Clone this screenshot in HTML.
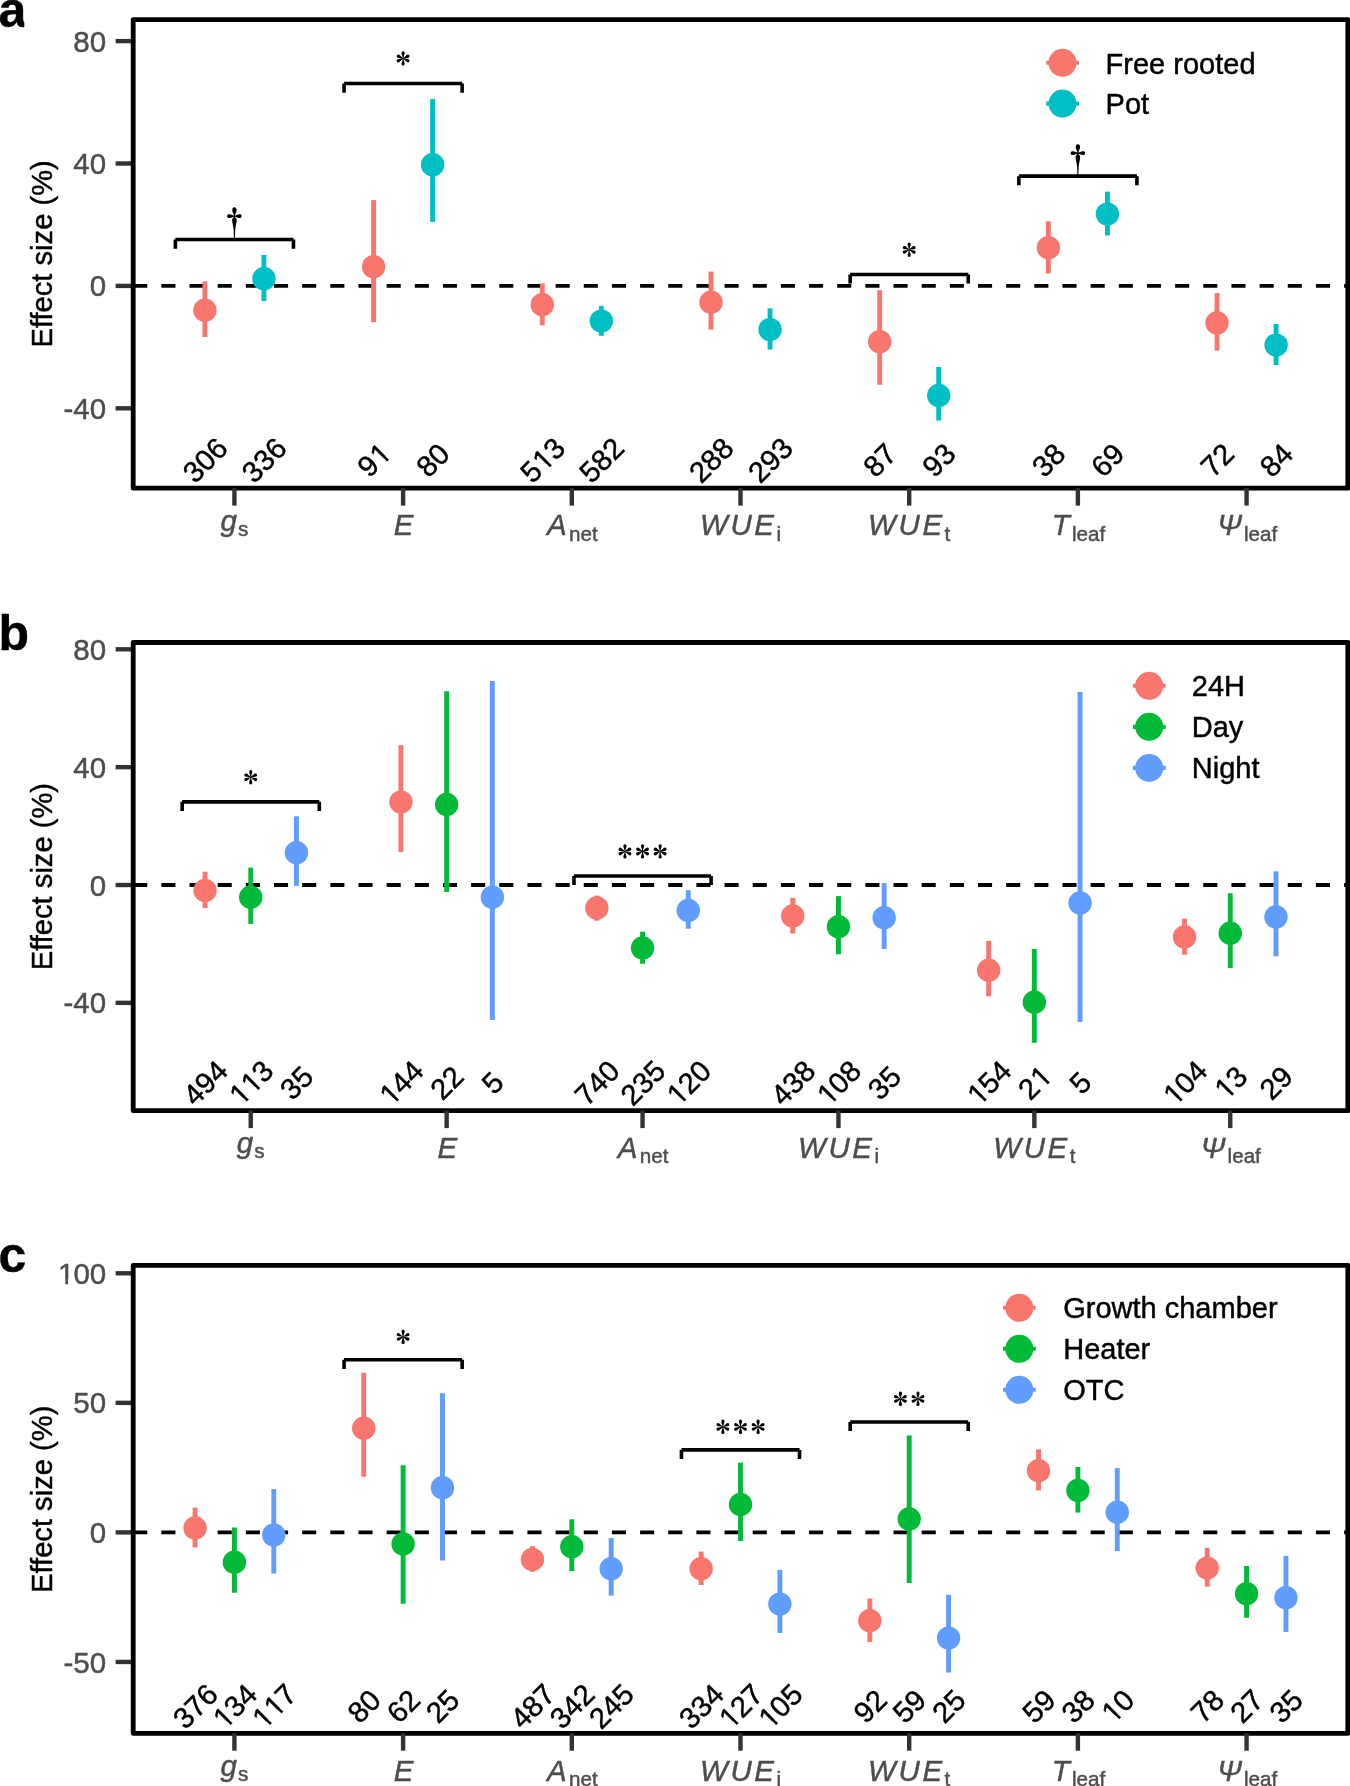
<!DOCTYPE html>
<html><head><meta charset="utf-8"><title>Effect size figure</title>
<style>
html,body{margin:0;padding:0;background:#fff;width:1350px;height:1786px;overflow:hidden;}
svg{display:block;will-change:transform;}
text{font-family:"Liberation Sans", sans-serif;stroke-width:0.45px;stroke-linejoin:round;}
</style></head>
<body>
<svg width="1350" height="1786" viewBox="0 0 1350 1786">
<defs><clipPath id="tagA"><rect x="-5" y="-5" width="29.3" height="40"/></clipPath><clipPath id="one" clipPathUnits="objectBoundingBox"><rect x="0" y="0" width="1" height="0.66"/><rect x="0.45" y="0" width="0.165" height="1"/></clipPath></defs>
<rect width="1350" height="1786" fill="#fff"/>
<text x="-1.5" y="26.70" font-size="50" font-weight="bold" fill="#000" stroke="#000" clip-path="url(#tagA)">a</text>
<line x1="115.6" y1="41.099999999999966" x2="133.2" y2="41.099999999999966" stroke="#333333" stroke-width="4.4"/>
<text x="106.2" y="51.66" text-anchor="end" font-size="29.5" fill="#4D4D4D" stroke="#4D4D4D">80</text>
<line x1="115.6" y1="163.49999999999997" x2="133.2" y2="163.49999999999997" stroke="#333333" stroke-width="4.4"/>
<text x="106.2" y="174.06" text-anchor="end" font-size="29.5" fill="#4D4D4D" stroke="#4D4D4D">40</text>
<line x1="115.6" y1="285.9" x2="133.2" y2="285.9" stroke="#333333" stroke-width="4.4"/>
<text x="106.2" y="296.46" text-anchor="end" font-size="29.5" fill="#4D4D4D" stroke="#4D4D4D">0</text>
<line x1="115.6" y1="408.29999999999995" x2="133.2" y2="408.29999999999995" stroke="#333333" stroke-width="4.4"/>
<text x="106.2" y="418.86" text-anchor="end" font-size="29.5" fill="#4D4D4D" stroke="#4D4D4D">-40</text>
<text x="52" y="253.90" text-anchor="middle" font-size="29.15" fill="#000" stroke="#000" transform="rotate(-90 52 253.90)">Effect size (%)</text>
<line x1="133.2" y1="285.9" x2="1347.8" y2="285.9" stroke="#000" stroke-width="3.8" stroke-dasharray="14.08 14.08"/>
<line x1="204.90" y1="281.30" x2="204.90" y2="337.00" stroke="#F8766D" stroke-width="4.9"/>
<circle cx="204.90" cy="310.30" r="11.7" fill="#F8766D"/>
<g transform="rotate(-45 204.90 459.90)"><text x="180.54" y="470.35" font-size="29.2" fill="#000" stroke="#000">3</text><text x="196.78" y="470.35" font-size="29.2" fill="#000" stroke="#000">0</text><text x="213.01" y="470.35" font-size="29.2" fill="#000" stroke="#000">6</text></g>
<line x1="263.94" y1="254.90" x2="263.94" y2="301.10" stroke="#00BFC4" stroke-width="4.9"/>
<circle cx="263.94" cy="278.70" r="11.7" fill="#00BFC4"/>
<g transform="rotate(-45 263.94 459.90)"><text x="239.58" y="470.35" font-size="29.2" fill="#000" stroke="#000">3</text><text x="255.82" y="470.35" font-size="29.2" fill="#000" stroke="#000">3</text><text x="272.06" y="470.35" font-size="29.2" fill="#000" stroke="#000">6</text></g>
<line x1="373.59" y1="200.10" x2="373.59" y2="322.20" stroke="#F8766D" stroke-width="4.9"/>
<circle cx="373.59" cy="266.70" r="11.7" fill="#F8766D"/>
<g transform="rotate(-45 373.59 459.90)"><text x="357.35" y="470.35" font-size="29.2" fill="#000" stroke="#000">9</text><text x="374.55" y="470.35" font-size="29.2" fill="#000" stroke="#000" clip-path="url(#one)">1</text></g>
<line x1="432.63" y1="98.90" x2="432.63" y2="221.90" stroke="#00BFC4" stroke-width="4.9"/>
<circle cx="432.63" cy="164.70" r="11.7" fill="#00BFC4"/>
<g transform="rotate(-45 432.63 459.90)"><text x="416.39" y="470.35" font-size="29.2" fill="#000" stroke="#000">8</text><text x="432.63" y="470.35" font-size="29.2" fill="#000" stroke="#000">0</text></g>
<line x1="542.28" y1="283.40" x2="542.28" y2="325.30" stroke="#F8766D" stroke-width="4.9"/>
<circle cx="542.28" cy="304.70" r="11.7" fill="#F8766D"/>
<g transform="rotate(-45 542.28 459.90)"><text x="517.92" y="470.35" font-size="29.2" fill="#000" stroke="#000">5</text><text x="535.13" y="470.35" font-size="29.2" fill="#000" stroke="#000" clip-path="url(#one)">1</text><text x="550.40" y="470.35" font-size="29.2" fill="#000" stroke="#000">3</text></g>
<line x1="601.33" y1="305.90" x2="601.33" y2="335.80" stroke="#00BFC4" stroke-width="4.9"/>
<circle cx="601.33" cy="321.10" r="11.7" fill="#00BFC4"/>
<g transform="rotate(-45 601.33 459.90)"><text x="576.97" y="470.35" font-size="29.2" fill="#000" stroke="#000">5</text><text x="593.21" y="470.35" font-size="29.2" fill="#000" stroke="#000">8</text><text x="609.45" y="470.35" font-size="29.2" fill="#000" stroke="#000">2</text></g>
<line x1="710.98" y1="271.50" x2="710.98" y2="329.60" stroke="#F8766D" stroke-width="4.9"/>
<circle cx="710.98" cy="302.30" r="11.7" fill="#F8766D"/>
<g transform="rotate(-45 710.98 459.90)"><text x="686.62" y="470.35" font-size="29.2" fill="#000" stroke="#000">2</text><text x="702.86" y="470.35" font-size="29.2" fill="#000" stroke="#000">8</text><text x="719.10" y="470.35" font-size="29.2" fill="#000" stroke="#000">8</text></g>
<line x1="770.02" y1="308.30" x2="770.02" y2="349.50" stroke="#00BFC4" stroke-width="4.9"/>
<circle cx="770.02" cy="329.60" r="11.7" fill="#00BFC4"/>
<g transform="rotate(-45 770.02 459.90)"><text x="745.66" y="470.35" font-size="29.2" fill="#000" stroke="#000">2</text><text x="761.90" y="470.35" font-size="29.2" fill="#000" stroke="#000">9</text><text x="778.14" y="470.35" font-size="29.2" fill="#000" stroke="#000">3</text></g>
<line x1="879.67" y1="290.20" x2="879.67" y2="384.80" stroke="#F8766D" stroke-width="4.9"/>
<circle cx="879.67" cy="341.70" r="11.7" fill="#F8766D"/>
<g transform="rotate(-45 879.67 459.90)"><text x="863.43" y="470.35" font-size="29.2" fill="#000" stroke="#000">8</text><text x="879.67" y="470.35" font-size="29.2" fill="#000" stroke="#000">7</text></g>
<line x1="938.72" y1="367.00" x2="938.72" y2="420.60" stroke="#00BFC4" stroke-width="4.9"/>
<circle cx="938.72" cy="395.50" r="11.7" fill="#00BFC4"/>
<g transform="rotate(-45 938.72 459.90)"><text x="922.48" y="470.35" font-size="29.2" fill="#000" stroke="#000">9</text><text x="938.72" y="470.35" font-size="29.2" fill="#000" stroke="#000">3</text></g>
<line x1="1048.37" y1="221.30" x2="1048.37" y2="273.40" stroke="#F8766D" stroke-width="4.9"/>
<circle cx="1048.37" cy="247.80" r="11.7" fill="#F8766D"/>
<g transform="rotate(-45 1048.37 459.90)"><text x="1032.13" y="470.35" font-size="29.2" fill="#000" stroke="#000">3</text><text x="1048.37" y="470.35" font-size="29.2" fill="#000" stroke="#000">8</text></g>
<line x1="1107.41" y1="191.60" x2="1107.41" y2="235.50" stroke="#00BFC4" stroke-width="4.9"/>
<circle cx="1107.41" cy="214.10" r="11.7" fill="#00BFC4"/>
<g transform="rotate(-45 1107.41 459.90)"><text x="1091.17" y="470.35" font-size="29.2" fill="#000" stroke="#000">6</text><text x="1107.41" y="470.35" font-size="29.2" fill="#000" stroke="#000">9</text></g>
<line x1="1217.06" y1="293.10" x2="1217.06" y2="350.60" stroke="#F8766D" stroke-width="4.9"/>
<circle cx="1217.06" cy="323.00" r="11.7" fill="#F8766D"/>
<g transform="rotate(-45 1217.06 459.90)"><text x="1200.82" y="470.35" font-size="29.2" fill="#000" stroke="#000">7</text><text x="1217.06" y="470.35" font-size="29.2" fill="#000" stroke="#000">2</text></g>
<line x1="1276.10" y1="324.00" x2="1276.10" y2="365.10" stroke="#00BFC4" stroke-width="4.9"/>
<circle cx="1276.10" cy="345.10" r="11.7" fill="#00BFC4"/>
<g transform="rotate(-45 1276.10 459.90)"><text x="1259.87" y="470.35" font-size="29.2" fill="#000" stroke="#000">8</text><text x="1276.10" y="470.35" font-size="29.2" fill="#000" stroke="#000">4</text></g>
<path d="M175.37 239.55 H293.46 M175.37 239.55 V248.65 M293.46 239.55 V248.65" fill="none" stroke="#000" stroke-width="3.6"/>
<path d="M234.42 207.30 C236.12 207.30 236.67 208.90 236.57 210.40 C236.47 211.90 235.32 213.40 234.97 215.30 L235.32 215.55 C237.22 214.60 239.42 214.10 240.32 214.20 C242.02 214.40 242.02 217.80 240.32 218.00 C239.42 218.10 237.22 217.60 235.32 216.65 L235.12 217.00 C235.82 217.90 236.82 218.70 236.72 220.30 C236.62 222.60 235.52 226.10 235.17 230.10 L234.92 238.35 L233.92 238.35 L233.67 230.10 C233.32 226.10 232.22 222.60 232.12 220.30 C232.02 218.70 233.02 217.90 233.72 217.00 L233.52 216.65 C231.62 217.60 229.42 218.10 228.52 218.00 C226.82 217.80 226.82 214.40 228.52 214.20 C229.42 214.10 231.62 214.60 233.52 215.55 L233.87 215.30 C233.52 213.40 232.37 211.90 232.27 210.40 C232.17 208.90 232.72 207.30 234.42 207.30 Z" fill="#000"/>
<path d="M344.07 83.55 H462.15 M344.07 83.55 V92.65 M462.15 83.55 V92.65" fill="none" stroke="#000" stroke-width="3.6"/>
<g transform="translate(403.11 58.50) scale(1.0)"><path transform="rotate(0)" d="M-0.36 -0.4 C-0.55 -2.56 -1.6 -4.10 -1.6 -5.70 A1.6 1.6 0 0 1 1.6 -5.70 C1.6 -4.10 0.55 -2.56 0.36 -0.4 Z" fill="#000"/><path transform="rotate(65)" d="M-0.36 -0.4 C-0.55 -2.39 -1.6 -3.82 -1.6 -5.30 A1.6 1.6 0 0 1 1.6 -5.30 C1.6 -3.82 0.55 -2.39 0.36 -0.4 Z" fill="#000"/><path transform="rotate(115)" d="M-0.36 -0.4 C-0.55 -2.39 -1.6 -3.82 -1.6 -5.30 A1.6 1.6 0 0 1 1.6 -5.30 C1.6 -3.82 0.55 -2.39 0.36 -0.4 Z" fill="#000"/><path transform="rotate(180)" d="M-0.36 -0.4 C-0.55 -2.48 -1.6 -3.96 -1.6 -5.50 A1.6 1.6 0 0 1 1.6 -5.50 C1.6 -3.96 0.55 -2.48 0.36 -0.4 Z" fill="#000"/><path transform="rotate(245)" d="M-0.36 -0.4 C-0.55 -2.39 -1.6 -3.82 -1.6 -5.30 A1.6 1.6 0 0 1 1.6 -5.30 C1.6 -3.82 0.55 -2.39 0.36 -0.4 Z" fill="#000"/><path transform="rotate(295)" d="M-0.36 -0.4 C-0.55 -2.39 -1.6 -3.82 -1.6 -5.30 A1.6 1.6 0 0 1 1.6 -5.30 C1.6 -3.82 0.55 -2.39 0.36 -0.4 Z" fill="#000"/><circle r="0.75" fill="#000"/></g>
<path d="M850.15 274.50 H968.24 M850.15 274.50 V283.60 M968.24 274.50 V283.60" fill="none" stroke="#000" stroke-width="3.6"/>
<g transform="translate(909.19 249.80) scale(1.0)"><path transform="rotate(0)" d="M-0.36 -0.4 C-0.55 -2.56 -1.6 -4.10 -1.6 -5.70 A1.6 1.6 0 0 1 1.6 -5.70 C1.6 -4.10 0.55 -2.56 0.36 -0.4 Z" fill="#000"/><path transform="rotate(65)" d="M-0.36 -0.4 C-0.55 -2.39 -1.6 -3.82 -1.6 -5.30 A1.6 1.6 0 0 1 1.6 -5.30 C1.6 -3.82 0.55 -2.39 0.36 -0.4 Z" fill="#000"/><path transform="rotate(115)" d="M-0.36 -0.4 C-0.55 -2.39 -1.6 -3.82 -1.6 -5.30 A1.6 1.6 0 0 1 1.6 -5.30 C1.6 -3.82 0.55 -2.39 0.36 -0.4 Z" fill="#000"/><path transform="rotate(180)" d="M-0.36 -0.4 C-0.55 -2.48 -1.6 -3.96 -1.6 -5.50 A1.6 1.6 0 0 1 1.6 -5.50 C1.6 -3.96 0.55 -2.48 0.36 -0.4 Z" fill="#000"/><path transform="rotate(245)" d="M-0.36 -0.4 C-0.55 -2.39 -1.6 -3.82 -1.6 -5.30 A1.6 1.6 0 0 1 1.6 -5.30 C1.6 -3.82 0.55 -2.39 0.36 -0.4 Z" fill="#000"/><path transform="rotate(295)" d="M-0.36 -0.4 C-0.55 -2.39 -1.6 -3.82 -1.6 -5.30 A1.6 1.6 0 0 1 1.6 -5.30 C1.6 -3.82 0.55 -2.39 0.36 -0.4 Z" fill="#000"/><circle r="0.75" fill="#000"/></g>
<path d="M1018.85 176.15 H1136.93 M1018.85 176.15 V185.25 M1136.93 176.15 V185.25" fill="none" stroke="#000" stroke-width="3.6"/>
<path d="M1077.89 144.30 C1079.59 144.30 1080.14 145.90 1080.04 147.40 C1079.94 148.90 1078.79 150.40 1078.44 152.30 L1078.79 152.55 C1080.69 151.60 1082.89 151.10 1083.79 151.20 C1085.49 151.40 1085.49 154.80 1083.79 155.00 C1082.89 155.10 1080.69 154.60 1078.79 153.65 L1078.59 154.00 C1079.29 154.90 1080.29 155.70 1080.19 157.30 C1080.09 159.60 1078.99 163.10 1078.64 167.10 L1078.39 174.95 L1077.39 174.95 L1077.14 167.10 C1076.79 163.10 1075.69 159.60 1075.59 157.30 C1075.49 155.70 1076.49 154.90 1077.19 154.00 L1076.99 153.65 C1075.09 154.60 1072.89 155.10 1071.99 155.00 C1070.29 154.80 1070.29 151.40 1071.99 151.20 C1072.89 151.10 1075.09 151.60 1076.99 152.55 L1077.34 152.30 C1076.99 150.40 1075.84 148.90 1075.74 147.40 C1075.64 145.90 1076.19 144.30 1077.89 144.30 Z" fill="#000"/>
<rect x="133.2" y="19.6" width="1214.60" height="468.60" fill="none" stroke="#000" stroke-width="4.8" stroke-linejoin="round"/>
<line x1="234.42" y1="488.2" x2="234.42" y2="505.60" stroke="#333333" stroke-width="4.4"/>
<text x="234.42" y="530.50" text-anchor="middle" font-size="29.5" fill="#4D4D4D" stroke="#4D4D4D"><tspan font-style="italic">g</tspan><tspan font-size="20.65" dy="5.4" dx="1.0">s</tspan></text>
<line x1="403.11" y1="488.2" x2="403.11" y2="505.60" stroke="#333333" stroke-width="4.4"/>
<text x="403.71" y="535.40" text-anchor="middle" font-size="29.5" fill="#4D4D4D" stroke="#4D4D4D"><tspan font-style="italic">E</tspan></text>
<line x1="571.81" y1="488.2" x2="571.81" y2="505.60" stroke="#333333" stroke-width="4.4"/>
<text x="572.41" y="535.40" text-anchor="middle" font-size="29.5" fill="#4D4D4D" stroke="#4D4D4D"><tspan font-style="italic">A</tspan><tspan font-size="20.65" dy="5.4" dx="2.2">net</tspan></text>
<line x1="740.50" y1="488.2" x2="740.50" y2="505.60" stroke="#333333" stroke-width="4.4"/>
<text x="740.50" y="535.40" text-anchor="middle" font-size="29.5" fill="#4D4D4D" stroke="#4D4D4D"><tspan font-style="italic">W</tspan><tspan font-style="italic" dx="2.6">U</tspan><tspan font-style="italic" dx="2.6">E</tspan><tspan font-size="20.65" dy="5.4" dx="2.4">i</tspan></text>
<line x1="909.19" y1="488.2" x2="909.19" y2="505.60" stroke="#333333" stroke-width="4.4"/>
<text x="909.19" y="535.40" text-anchor="middle" font-size="29.5" fill="#4D4D4D" stroke="#4D4D4D"><tspan font-style="italic">W</tspan><tspan font-style="italic" dx="2.6">U</tspan><tspan font-style="italic" dx="2.6">E</tspan><tspan font-size="20.65" dy="5.4" dx="2.4">t</tspan></text>
<line x1="1077.89" y1="488.2" x2="1077.89" y2="505.60" stroke="#333333" stroke-width="4.4"/>
<text x="1078.49" y="535.40" text-anchor="middle" font-size="29.5" fill="#4D4D4D" stroke="#4D4D4D"><tspan font-style="italic">T</tspan><tspan font-size="20.65" dy="5.4" dx="2.2">leaf</tspan></text>
<line x1="1246.58" y1="488.2" x2="1246.58" y2="505.60" stroke="#333333" stroke-width="4.4"/>
<text x="1247.18" y="535.40" text-anchor="middle" font-size="29.5" fill="#4D4D4D" stroke="#4D4D4D"><tspan font-style="italic">&#936;</tspan><tspan font-size="20.65" dy="5.4" dx="2.2">leaf</tspan></text>
<line x1="1046.20" y1="62.80" x2="1079.00" y2="62.80" stroke="#F8766D" stroke-width="4.1"/>
<circle cx="1062.50" cy="62.80" r="14" fill="#F8766D"/>
<line x1="1046.20" y1="103.60" x2="1079.00" y2="103.60" stroke="#00BFC4" stroke-width="4.1"/>
<circle cx="1062.50" cy="103.60" r="14" fill="#00BFC4"/>
<text x="1105.60" y="73.60" font-size="29.0" fill="#000" stroke="#000">Free rooted</text>
<text x="1105.60" y="114.00" font-size="29.0" fill="#000" stroke="#000">Pot</text>
<text x="-1.5" y="649.60" font-size="50" font-weight="bold" fill="#000" stroke="#000">b</text>
<line x1="115.6" y1="649.3199999999999" x2="133.2" y2="649.3199999999999" stroke="#333333" stroke-width="4.4"/>
<text x="106.2" y="659.88" text-anchor="end" font-size="29.5" fill="#4D4D4D" stroke="#4D4D4D">80</text>
<line x1="115.6" y1="767.16" x2="133.2" y2="767.16" stroke="#333333" stroke-width="4.4"/>
<text x="106.2" y="777.72" text-anchor="end" font-size="29.5" fill="#4D4D4D" stroke="#4D4D4D">40</text>
<line x1="115.6" y1="885.0" x2="133.2" y2="885.0" stroke="#333333" stroke-width="4.4"/>
<text x="106.2" y="895.56" text-anchor="end" font-size="29.5" fill="#4D4D4D" stroke="#4D4D4D">0</text>
<line x1="115.6" y1="1002.84" x2="133.2" y2="1002.84" stroke="#333333" stroke-width="4.4"/>
<text x="106.2" y="1013.40" text-anchor="end" font-size="29.5" fill="#4D4D4D" stroke="#4D4D4D">-40</text>
<text x="52" y="876.60" text-anchor="middle" font-size="29.15" fill="#000" stroke="#000" transform="rotate(-90 52 876.60)">Effect size (%)</text>
<line x1="133.2" y1="885.0" x2="1347.8" y2="885.0" stroke="#000" stroke-width="3.8" stroke-dasharray="14.08 14.08"/>
<line x1="205.03" y1="871.70" x2="205.03" y2="908.10" stroke="#F8766D" stroke-width="4.9"/>
<circle cx="205.03" cy="890.40" r="11.7" fill="#F8766D"/>
<g transform="rotate(-45 205.03 1082.60)"><text x="180.67" y="1093.05" font-size="29.2" fill="#000" stroke="#000">4</text><text x="196.91" y="1093.05" font-size="29.2" fill="#000" stroke="#000">9</text><text x="213.15" y="1093.05" font-size="29.2" fill="#000" stroke="#000">4</text></g>
<line x1="250.74" y1="867.60" x2="250.74" y2="923.90" stroke="#00BA38" stroke-width="4.9"/>
<circle cx="250.74" cy="897.20" r="11.7" fill="#00BA38"/>
<g transform="rotate(-45 250.74 1082.60)"><text x="227.35" y="1093.05" font-size="29.2" fill="#000" stroke="#000" clip-path="url(#one)">1</text><text x="243.59" y="1093.05" font-size="29.2" fill="#000" stroke="#000" clip-path="url(#one)">1</text><text x="258.86" y="1093.05" font-size="29.2" fill="#000" stroke="#000">3</text></g>
<line x1="296.45" y1="816.30" x2="296.45" y2="885.90" stroke="#619CFF" stroke-width="4.9"/>
<circle cx="296.45" cy="852.70" r="11.7" fill="#619CFF"/>
<g transform="rotate(-45 296.45 1082.60)"><text x="280.21" y="1093.05" font-size="29.2" fill="#000" stroke="#000">3</text><text x="296.45" y="1093.05" font-size="29.2" fill="#000" stroke="#000">5</text></g>
<line x1="400.93" y1="745.20" x2="400.93" y2="851.90" stroke="#F8766D" stroke-width="4.9"/>
<circle cx="400.93" cy="802.10" r="11.7" fill="#F8766D"/>
<g transform="rotate(-45 400.93 1082.60)"><text x="377.54" y="1093.05" font-size="29.2" fill="#000" stroke="#000" clip-path="url(#one)">1</text><text x="392.81" y="1093.05" font-size="29.2" fill="#000" stroke="#000">4</text><text x="409.05" y="1093.05" font-size="29.2" fill="#000" stroke="#000">4</text></g>
<line x1="446.65" y1="691.30" x2="446.65" y2="891.90" stroke="#00BA38" stroke-width="4.9"/>
<circle cx="446.65" cy="804.40" r="11.7" fill="#00BA38"/>
<g transform="rotate(-45 446.65 1082.60)"><text x="430.41" y="1093.05" font-size="29.2" fill="#000" stroke="#000">2</text><text x="446.65" y="1093.05" font-size="29.2" fill="#000" stroke="#000">2</text></g>
<line x1="492.36" y1="680.90" x2="492.36" y2="1019.90" stroke="#619CFF" stroke-width="4.9"/>
<circle cx="492.36" cy="897.20" r="11.7" fill="#619CFF"/>
<g transform="rotate(-45 492.36 1082.60)"><text x="484.24" y="1093.05" font-size="29.2" fill="#000" stroke="#000">5</text></g>
<line x1="596.84" y1="895.60" x2="596.84" y2="920.70" stroke="#F8766D" stroke-width="4.9"/>
<circle cx="596.84" cy="908.00" r="11.7" fill="#F8766D"/>
<g transform="rotate(-45 596.84 1082.60)"><text x="572.48" y="1093.05" font-size="29.2" fill="#000" stroke="#000">7</text><text x="588.72" y="1093.05" font-size="29.2" fill="#000" stroke="#000">4</text><text x="604.96" y="1093.05" font-size="29.2" fill="#000" stroke="#000">0</text></g>
<line x1="642.55" y1="931.70" x2="642.55" y2="963.70" stroke="#00BA38" stroke-width="4.9"/>
<circle cx="642.55" cy="948.00" r="11.7" fill="#00BA38"/>
<g transform="rotate(-45 642.55 1082.60)"><text x="618.19" y="1093.05" font-size="29.2" fill="#000" stroke="#000">2</text><text x="634.43" y="1093.05" font-size="29.2" fill="#000" stroke="#000">3</text><text x="650.67" y="1093.05" font-size="29.2" fill="#000" stroke="#000">5</text></g>
<line x1="688.26" y1="890.20" x2="688.26" y2="928.70" stroke="#619CFF" stroke-width="4.9"/>
<circle cx="688.26" cy="910.40" r="11.7" fill="#619CFF"/>
<g transform="rotate(-45 688.26 1082.60)"><text x="664.86" y="1093.05" font-size="29.2" fill="#000" stroke="#000" clip-path="url(#one)">1</text><text x="680.14" y="1093.05" font-size="29.2" fill="#000" stroke="#000">2</text><text x="696.38" y="1093.05" font-size="29.2" fill="#000" stroke="#000">0</text></g>
<line x1="792.74" y1="897.90" x2="792.74" y2="933.50" stroke="#F8766D" stroke-width="4.9"/>
<circle cx="792.74" cy="916.00" r="11.7" fill="#F8766D"/>
<g transform="rotate(-45 792.74 1082.60)"><text x="768.38" y="1093.05" font-size="29.2" fill="#000" stroke="#000">4</text><text x="784.62" y="1093.05" font-size="29.2" fill="#000" stroke="#000">3</text><text x="800.86" y="1093.05" font-size="29.2" fill="#000" stroke="#000">8</text></g>
<line x1="838.45" y1="896.10" x2="838.45" y2="954.20" stroke="#00BA38" stroke-width="4.9"/>
<circle cx="838.45" cy="926.70" r="11.7" fill="#00BA38"/>
<g transform="rotate(-45 838.45 1082.60)"><text x="815.06" y="1093.05" font-size="29.2" fill="#000" stroke="#000" clip-path="url(#one)">1</text><text x="830.33" y="1093.05" font-size="29.2" fill="#000" stroke="#000">0</text><text x="846.57" y="1093.05" font-size="29.2" fill="#000" stroke="#000">8</text></g>
<line x1="884.16" y1="883.10" x2="884.16" y2="948.90" stroke="#619CFF" stroke-width="4.9"/>
<circle cx="884.16" cy="917.80" r="11.7" fill="#619CFF"/>
<g transform="rotate(-45 884.16 1082.60)"><text x="867.92" y="1093.05" font-size="29.2" fill="#000" stroke="#000">3</text><text x="884.16" y="1093.05" font-size="29.2" fill="#000" stroke="#000">5</text></g>
<line x1="988.64" y1="940.90" x2="988.64" y2="996.30" stroke="#F8766D" stroke-width="4.9"/>
<circle cx="988.64" cy="970.20" r="11.7" fill="#F8766D"/>
<g transform="rotate(-45 988.64 1082.60)"><text x="965.25" y="1093.05" font-size="29.2" fill="#000" stroke="#000" clip-path="url(#one)">1</text><text x="980.52" y="1093.05" font-size="29.2" fill="#000" stroke="#000">5</text><text x="996.76" y="1093.05" font-size="29.2" fill="#000" stroke="#000">4</text></g>
<line x1="1034.35" y1="948.90" x2="1034.35" y2="1042.80" stroke="#00BA38" stroke-width="4.9"/>
<circle cx="1034.35" cy="1002.20" r="11.7" fill="#00BA38"/>
<g transform="rotate(-45 1034.35 1082.60)"><text x="1018.12" y="1093.05" font-size="29.2" fill="#000" stroke="#000">2</text><text x="1035.32" y="1093.05" font-size="29.2" fill="#000" stroke="#000" clip-path="url(#one)">1</text></g>
<line x1="1080.07" y1="692.00" x2="1080.07" y2="1022.10" stroke="#619CFF" stroke-width="4.9"/>
<circle cx="1080.07" cy="903.00" r="11.7" fill="#619CFF"/>
<g transform="rotate(-45 1080.07 1082.60)"><text x="1071.95" y="1093.05" font-size="29.2" fill="#000" stroke="#000">5</text></g>
<line x1="1184.55" y1="918.70" x2="1184.55" y2="954.80" stroke="#F8766D" stroke-width="4.9"/>
<circle cx="1184.55" cy="937.00" r="11.7" fill="#F8766D"/>
<g transform="rotate(-45 1184.55 1082.60)"><text x="1161.15" y="1093.05" font-size="29.2" fill="#000" stroke="#000" clip-path="url(#one)">1</text><text x="1176.43" y="1093.05" font-size="29.2" fill="#000" stroke="#000">0</text><text x="1192.67" y="1093.05" font-size="29.2" fill="#000" stroke="#000">4</text></g>
<line x1="1230.26" y1="893.20" x2="1230.26" y2="968.10" stroke="#00BA38" stroke-width="4.9"/>
<circle cx="1230.26" cy="933.20" r="11.7" fill="#00BA38"/>
<g transform="rotate(-45 1230.26 1082.60)"><text x="1214.98" y="1093.05" font-size="29.2" fill="#000" stroke="#000" clip-path="url(#one)">1</text><text x="1230.26" y="1093.05" font-size="29.2" fill="#000" stroke="#000">3</text></g>
<line x1="1275.97" y1="871.30" x2="1275.97" y2="956.30" stroke="#619CFF" stroke-width="4.9"/>
<circle cx="1275.97" cy="916.90" r="11.7" fill="#619CFF"/>
<g transform="rotate(-45 1275.97 1082.60)"><text x="1259.73" y="1093.05" font-size="29.2" fill="#000" stroke="#000">2</text><text x="1275.97" y="1093.05" font-size="29.2" fill="#000" stroke="#000">9</text></g>
<path d="M182.18 801.85 H319.31 M182.18 801.85 V810.95 M319.31 801.85 V810.95" fill="none" stroke="#000" stroke-width="3.6"/>
<g transform="translate(250.74 777.30) scale(1.0)"><path transform="rotate(0)" d="M-0.36 -0.4 C-0.55 -2.56 -1.6 -4.10 -1.6 -5.70 A1.6 1.6 0 0 1 1.6 -5.70 C1.6 -4.10 0.55 -2.56 0.36 -0.4 Z" fill="#000"/><path transform="rotate(65)" d="M-0.36 -0.4 C-0.55 -2.39 -1.6 -3.82 -1.6 -5.30 A1.6 1.6 0 0 1 1.6 -5.30 C1.6 -3.82 0.55 -2.39 0.36 -0.4 Z" fill="#000"/><path transform="rotate(115)" d="M-0.36 -0.4 C-0.55 -2.39 -1.6 -3.82 -1.6 -5.30 A1.6 1.6 0 0 1 1.6 -5.30 C1.6 -3.82 0.55 -2.39 0.36 -0.4 Z" fill="#000"/><path transform="rotate(180)" d="M-0.36 -0.4 C-0.55 -2.48 -1.6 -3.96 -1.6 -5.50 A1.6 1.6 0 0 1 1.6 -5.50 C1.6 -3.96 0.55 -2.48 0.36 -0.4 Z" fill="#000"/><path transform="rotate(245)" d="M-0.36 -0.4 C-0.55 -2.39 -1.6 -3.82 -1.6 -5.30 A1.6 1.6 0 0 1 1.6 -5.30 C1.6 -3.82 0.55 -2.39 0.36 -0.4 Z" fill="#000"/><path transform="rotate(295)" d="M-0.36 -0.4 C-0.55 -2.39 -1.6 -3.82 -1.6 -5.30 A1.6 1.6 0 0 1 1.6 -5.30 C1.6 -3.82 0.55 -2.39 0.36 -0.4 Z" fill="#000"/><circle r="0.75" fill="#000"/></g>
<path d="M573.98 876.00 H711.11 M573.98 876.00 V885.10 M711.11 876.00 V885.10" fill="none" stroke="#000" stroke-width="3.6"/>
<g transform="translate(624.95 851.50) scale(1.0)"><path transform="rotate(0)" d="M-0.36 -0.4 C-0.55 -2.56 -1.6 -4.10 -1.6 -5.70 A1.6 1.6 0 0 1 1.6 -5.70 C1.6 -4.10 0.55 -2.56 0.36 -0.4 Z" fill="#000"/><path transform="rotate(65)" d="M-0.36 -0.4 C-0.55 -2.39 -1.6 -3.82 -1.6 -5.30 A1.6 1.6 0 0 1 1.6 -5.30 C1.6 -3.82 0.55 -2.39 0.36 -0.4 Z" fill="#000"/><path transform="rotate(115)" d="M-0.36 -0.4 C-0.55 -2.39 -1.6 -3.82 -1.6 -5.30 A1.6 1.6 0 0 1 1.6 -5.30 C1.6 -3.82 0.55 -2.39 0.36 -0.4 Z" fill="#000"/><path transform="rotate(180)" d="M-0.36 -0.4 C-0.55 -2.48 -1.6 -3.96 -1.6 -5.50 A1.6 1.6 0 0 1 1.6 -5.50 C1.6 -3.96 0.55 -2.48 0.36 -0.4 Z" fill="#000"/><path transform="rotate(245)" d="M-0.36 -0.4 C-0.55 -2.39 -1.6 -3.82 -1.6 -5.30 A1.6 1.6 0 0 1 1.6 -5.30 C1.6 -3.82 0.55 -2.39 0.36 -0.4 Z" fill="#000"/><path transform="rotate(295)" d="M-0.36 -0.4 C-0.55 -2.39 -1.6 -3.82 -1.6 -5.30 A1.6 1.6 0 0 1 1.6 -5.30 C1.6 -3.82 0.55 -2.39 0.36 -0.4 Z" fill="#000"/><circle r="0.75" fill="#000"/></g>
<g transform="translate(642.55 851.50) scale(1.0)"><path transform="rotate(0)" d="M-0.36 -0.4 C-0.55 -2.56 -1.6 -4.10 -1.6 -5.70 A1.6 1.6 0 0 1 1.6 -5.70 C1.6 -4.10 0.55 -2.56 0.36 -0.4 Z" fill="#000"/><path transform="rotate(65)" d="M-0.36 -0.4 C-0.55 -2.39 -1.6 -3.82 -1.6 -5.30 A1.6 1.6 0 0 1 1.6 -5.30 C1.6 -3.82 0.55 -2.39 0.36 -0.4 Z" fill="#000"/><path transform="rotate(115)" d="M-0.36 -0.4 C-0.55 -2.39 -1.6 -3.82 -1.6 -5.30 A1.6 1.6 0 0 1 1.6 -5.30 C1.6 -3.82 0.55 -2.39 0.36 -0.4 Z" fill="#000"/><path transform="rotate(180)" d="M-0.36 -0.4 C-0.55 -2.48 -1.6 -3.96 -1.6 -5.50 A1.6 1.6 0 0 1 1.6 -5.50 C1.6 -3.96 0.55 -2.48 0.36 -0.4 Z" fill="#000"/><path transform="rotate(245)" d="M-0.36 -0.4 C-0.55 -2.39 -1.6 -3.82 -1.6 -5.30 A1.6 1.6 0 0 1 1.6 -5.30 C1.6 -3.82 0.55 -2.39 0.36 -0.4 Z" fill="#000"/><path transform="rotate(295)" d="M-0.36 -0.4 C-0.55 -2.39 -1.6 -3.82 -1.6 -5.30 A1.6 1.6 0 0 1 1.6 -5.30 C1.6 -3.82 0.55 -2.39 0.36 -0.4 Z" fill="#000"/><circle r="0.75" fill="#000"/></g>
<g transform="translate(660.15 851.50) scale(1.0)"><path transform="rotate(0)" d="M-0.36 -0.4 C-0.55 -2.56 -1.6 -4.10 -1.6 -5.70 A1.6 1.6 0 0 1 1.6 -5.70 C1.6 -4.10 0.55 -2.56 0.36 -0.4 Z" fill="#000"/><path transform="rotate(65)" d="M-0.36 -0.4 C-0.55 -2.39 -1.6 -3.82 -1.6 -5.30 A1.6 1.6 0 0 1 1.6 -5.30 C1.6 -3.82 0.55 -2.39 0.36 -0.4 Z" fill="#000"/><path transform="rotate(115)" d="M-0.36 -0.4 C-0.55 -2.39 -1.6 -3.82 -1.6 -5.30 A1.6 1.6 0 0 1 1.6 -5.30 C1.6 -3.82 0.55 -2.39 0.36 -0.4 Z" fill="#000"/><path transform="rotate(180)" d="M-0.36 -0.4 C-0.55 -2.48 -1.6 -3.96 -1.6 -5.50 A1.6 1.6 0 0 1 1.6 -5.50 C1.6 -3.96 0.55 -2.48 0.36 -0.4 Z" fill="#000"/><path transform="rotate(245)" d="M-0.36 -0.4 C-0.55 -2.39 -1.6 -3.82 -1.6 -5.30 A1.6 1.6 0 0 1 1.6 -5.30 C1.6 -3.82 0.55 -2.39 0.36 -0.4 Z" fill="#000"/><path transform="rotate(295)" d="M-0.36 -0.4 C-0.55 -2.39 -1.6 -3.82 -1.6 -5.30 A1.6 1.6 0 0 1 1.6 -5.30 C1.6 -3.82 0.55 -2.39 0.36 -0.4 Z" fill="#000"/><circle r="0.75" fill="#000"/></g>
<rect x="133.2" y="642.5" width="1214.60" height="468.20" fill="none" stroke="#000" stroke-width="4.8" stroke-linejoin="round"/>
<line x1="250.74" y1="1110.7" x2="250.74" y2="1128.10" stroke="#333333" stroke-width="4.4"/>
<text x="250.74" y="1153.00" text-anchor="middle" font-size="29.5" fill="#4D4D4D" stroke="#4D4D4D"><tspan font-style="italic">g</tspan><tspan font-size="20.65" dy="5.4" dx="1.0">s</tspan></text>
<line x1="446.65" y1="1110.7" x2="446.65" y2="1128.10" stroke="#333333" stroke-width="4.4"/>
<text x="447.25" y="1157.90" text-anchor="middle" font-size="29.5" fill="#4D4D4D" stroke="#4D4D4D"><tspan font-style="italic">E</tspan></text>
<line x1="642.55" y1="1110.7" x2="642.55" y2="1128.10" stroke="#333333" stroke-width="4.4"/>
<text x="643.15" y="1157.90" text-anchor="middle" font-size="29.5" fill="#4D4D4D" stroke="#4D4D4D"><tspan font-style="italic">A</tspan><tspan font-size="20.65" dy="5.4" dx="2.2">net</tspan></text>
<line x1="838.45" y1="1110.7" x2="838.45" y2="1128.10" stroke="#333333" stroke-width="4.4"/>
<text x="838.45" y="1157.90" text-anchor="middle" font-size="29.5" fill="#4D4D4D" stroke="#4D4D4D"><tspan font-style="italic">W</tspan><tspan font-style="italic" dx="2.6">U</tspan><tspan font-style="italic" dx="2.6">E</tspan><tspan font-size="20.65" dy="5.4" dx="2.4">i</tspan></text>
<line x1="1034.35" y1="1110.7" x2="1034.35" y2="1128.10" stroke="#333333" stroke-width="4.4"/>
<text x="1034.35" y="1157.90" text-anchor="middle" font-size="29.5" fill="#4D4D4D" stroke="#4D4D4D"><tspan font-style="italic">W</tspan><tspan font-style="italic" dx="2.6">U</tspan><tspan font-style="italic" dx="2.6">E</tspan><tspan font-size="20.65" dy="5.4" dx="2.4">t</tspan></text>
<line x1="1230.26" y1="1110.7" x2="1230.26" y2="1128.10" stroke="#333333" stroke-width="4.4"/>
<text x="1230.86" y="1157.90" text-anchor="middle" font-size="29.5" fill="#4D4D4D" stroke="#4D4D4D"><tspan font-style="italic">&#936;</tspan><tspan font-size="20.65" dy="5.4" dx="2.2">leaf</tspan></text>
<line x1="1132.90" y1="685.80" x2="1165.70" y2="685.80" stroke="#F8766D" stroke-width="4.1"/>
<circle cx="1149.20" cy="685.80" r="14" fill="#F8766D"/>
<text x="1191.80" y="696.30" font-size="29.0" fill="#000" stroke="#000">24H</text>
<line x1="1132.90" y1="726.85" x2="1165.70" y2="726.85" stroke="#00BA38" stroke-width="4.1"/>
<circle cx="1149.20" cy="726.85" r="14" fill="#00BA38"/>
<text x="1191.80" y="737.20" font-size="29.0" fill="#000" stroke="#000">Day</text>
<line x1="1132.90" y1="767.90" x2="1165.70" y2="767.90" stroke="#619CFF" stroke-width="4.1"/>
<circle cx="1149.20" cy="767.90" r="14" fill="#619CFF"/>
<text x="1191.80" y="778.10" font-size="29.0" fill="#000" stroke="#000">Night</text>
<text x="-1.5" y="1272.20" font-size="50" font-weight="bold" fill="#000" stroke="#000">c</text>
<line x1="115.6" y1="1273.3000000000002" x2="133.2" y2="1273.3000000000002" stroke="#333333" stroke-width="4.4"/>
<text x="57.95" y="1283.86" font-size="29.5" fill="#4D4D4D" stroke="#4D4D4D" clip-path="url(#one)">1</text><text x="73.39" y="1283.86" font-size="29.5" fill="#4D4D4D" stroke="#4D4D4D">0</text><text x="89.79" y="1283.86" font-size="29.5" fill="#4D4D4D" stroke="#4D4D4D">0</text>
<line x1="115.6" y1="1402.8500000000001" x2="133.2" y2="1402.8500000000001" stroke="#333333" stroke-width="4.4"/>
<text x="106.2" y="1413.41" text-anchor="end" font-size="29.5" fill="#4D4D4D" stroke="#4D4D4D">50</text>
<line x1="115.6" y1="1532.4" x2="133.2" y2="1532.4" stroke="#333333" stroke-width="4.4"/>
<text x="106.2" y="1542.96" text-anchor="end" font-size="29.5" fill="#4D4D4D" stroke="#4D4D4D">0</text>
<line x1="115.6" y1="1661.95" x2="133.2" y2="1661.95" stroke="#333333" stroke-width="4.4"/>
<text x="106.2" y="1672.51" text-anchor="end" font-size="29.5" fill="#4D4D4D" stroke="#4D4D4D">-50</text>
<text x="52" y="1499.30" text-anchor="middle" font-size="29.15" fill="#000" stroke="#000" transform="rotate(-90 52 1499.30)">Effect size (%)</text>
<line x1="133.2" y1="1532.4" x2="1347.8" y2="1532.4" stroke="#000" stroke-width="3.8" stroke-dasharray="14.08 14.08"/>
<line x1="195.05" y1="1507.70" x2="195.05" y2="1547.50" stroke="#F8766D" stroke-width="4.9"/>
<circle cx="195.05" cy="1528.00" r="11.7" fill="#F8766D"/>
<g transform="rotate(-45 195.05 1706.00)"><text x="170.70" y="1716.45" font-size="29.2" fill="#000" stroke="#000">3</text><text x="186.93" y="1716.45" font-size="29.2" fill="#000" stroke="#000">7</text><text x="203.17" y="1716.45" font-size="29.2" fill="#000" stroke="#000">6</text></g>
<line x1="234.42" y1="1527.50" x2="234.42" y2="1592.70" stroke="#00BA38" stroke-width="4.9"/>
<circle cx="234.42" cy="1562.30" r="11.7" fill="#00BA38"/>
<g transform="rotate(-45 234.42 1706.00)"><text x="211.02" y="1716.45" font-size="29.2" fill="#000" stroke="#000" clip-path="url(#one)">1</text><text x="226.30" y="1716.45" font-size="29.2" fill="#000" stroke="#000">3</text><text x="242.54" y="1716.45" font-size="29.2" fill="#000" stroke="#000">4</text></g>
<line x1="273.78" y1="1489.10" x2="273.78" y2="1573.50" stroke="#619CFF" stroke-width="4.9"/>
<circle cx="273.78" cy="1534.90" r="11.7" fill="#619CFF"/>
<g transform="rotate(-45 273.78 1706.00)"><text x="250.38" y="1716.45" font-size="29.2" fill="#000" stroke="#000" clip-path="url(#one)">1</text><text x="266.62" y="1716.45" font-size="29.2" fill="#000" stroke="#000" clip-path="url(#one)">1</text><text x="281.90" y="1716.45" font-size="29.2" fill="#000" stroke="#000">7</text></g>
<line x1="363.75" y1="1372.60" x2="363.75" y2="1476.80" stroke="#F8766D" stroke-width="4.9"/>
<circle cx="363.75" cy="1428.30" r="11.7" fill="#F8766D"/>
<g transform="rotate(-45 363.75 1706.00)"><text x="347.51" y="1716.45" font-size="29.2" fill="#000" stroke="#000">8</text><text x="363.75" y="1716.45" font-size="29.2" fill="#000" stroke="#000">0</text></g>
<line x1="403.11" y1="1465.30" x2="403.11" y2="1603.70" stroke="#00BA38" stroke-width="4.9"/>
<circle cx="403.11" cy="1543.90" r="11.7" fill="#00BA38"/>
<g transform="rotate(-45 403.11 1706.00)"><text x="386.87" y="1716.45" font-size="29.2" fill="#000" stroke="#000">6</text><text x="403.11" y="1716.45" font-size="29.2" fill="#000" stroke="#000">2</text></g>
<line x1="442.47" y1="1393.20" x2="442.47" y2="1560.40" stroke="#619CFF" stroke-width="4.9"/>
<circle cx="442.47" cy="1487.70" r="11.7" fill="#619CFF"/>
<g transform="rotate(-45 442.47 1706.00)"><text x="426.23" y="1716.45" font-size="29.2" fill="#000" stroke="#000">2</text><text x="442.47" y="1716.45" font-size="29.2" fill="#000" stroke="#000">5</text></g>
<line x1="532.44" y1="1546.20" x2="532.44" y2="1571.80" stroke="#F8766D" stroke-width="4.9"/>
<circle cx="532.44" cy="1559.40" r="11.7" fill="#F8766D"/>
<g transform="rotate(-45 532.44 1706.00)"><text x="508.08" y="1716.45" font-size="29.2" fill="#000" stroke="#000">4</text><text x="524.32" y="1716.45" font-size="29.2" fill="#000" stroke="#000">8</text><text x="540.56" y="1716.45" font-size="29.2" fill="#000" stroke="#000">7</text></g>
<line x1="571.81" y1="1519.30" x2="571.81" y2="1571.10" stroke="#00BA38" stroke-width="4.9"/>
<circle cx="571.81" cy="1546.70" r="11.7" fill="#00BA38"/>
<g transform="rotate(-45 571.81 1706.00)"><text x="547.45" y="1716.45" font-size="29.2" fill="#000" stroke="#000">3</text><text x="563.69" y="1716.45" font-size="29.2" fill="#000" stroke="#000">4</text><text x="579.93" y="1716.45" font-size="29.2" fill="#000" stroke="#000">2</text></g>
<line x1="611.17" y1="1538.10" x2="611.17" y2="1595.60" stroke="#619CFF" stroke-width="4.9"/>
<circle cx="611.17" cy="1568.70" r="11.7" fill="#619CFF"/>
<g transform="rotate(-45 611.17 1706.00)"><text x="586.81" y="1716.45" font-size="29.2" fill="#000" stroke="#000">2</text><text x="603.05" y="1716.45" font-size="29.2" fill="#000" stroke="#000">4</text><text x="619.29" y="1716.45" font-size="29.2" fill="#000" stroke="#000">5</text></g>
<line x1="701.14" y1="1551.60" x2="701.14" y2="1585.00" stroke="#F8766D" stroke-width="4.9"/>
<circle cx="701.14" cy="1568.70" r="11.7" fill="#F8766D"/>
<g transform="rotate(-45 701.14 1706.00)"><text x="676.78" y="1716.45" font-size="29.2" fill="#000" stroke="#000">3</text><text x="693.02" y="1716.45" font-size="29.2" fill="#000" stroke="#000">3</text><text x="709.26" y="1716.45" font-size="29.2" fill="#000" stroke="#000">4</text></g>
<line x1="740.50" y1="1462.80" x2="740.50" y2="1541.00" stroke="#00BA38" stroke-width="4.9"/>
<circle cx="740.50" cy="1504.40" r="11.7" fill="#00BA38"/>
<g transform="rotate(-45 740.50 1706.00)"><text x="717.10" y="1716.45" font-size="29.2" fill="#000" stroke="#000" clip-path="url(#one)">1</text><text x="732.38" y="1716.45" font-size="29.2" fill="#000" stroke="#000">2</text><text x="748.62" y="1716.45" font-size="29.2" fill="#000" stroke="#000">7</text></g>
<line x1="779.86" y1="1569.90" x2="779.86" y2="1633.00" stroke="#619CFF" stroke-width="4.9"/>
<circle cx="779.86" cy="1604.10" r="11.7" fill="#619CFF"/>
<g transform="rotate(-45 779.86 1706.00)"><text x="756.47" y="1716.45" font-size="29.2" fill="#000" stroke="#000" clip-path="url(#one)">1</text><text x="771.74" y="1716.45" font-size="29.2" fill="#000" stroke="#000">0</text><text x="787.98" y="1716.45" font-size="29.2" fill="#000" stroke="#000">5</text></g>
<line x1="869.83" y1="1598.50" x2="869.83" y2="1641.90" stroke="#F8766D" stroke-width="4.9"/>
<circle cx="869.83" cy="1620.70" r="11.7" fill="#F8766D"/>
<g transform="rotate(-45 869.83 1706.00)"><text x="853.59" y="1716.45" font-size="29.2" fill="#000" stroke="#000">9</text><text x="869.83" y="1716.45" font-size="29.2" fill="#000" stroke="#000">2</text></g>
<line x1="909.19" y1="1435.60" x2="909.19" y2="1583.00" stroke="#00BA38" stroke-width="4.9"/>
<circle cx="909.19" cy="1518.90" r="11.7" fill="#00BA38"/>
<g transform="rotate(-45 909.19 1706.00)"><text x="892.95" y="1716.45" font-size="29.2" fill="#000" stroke="#000">5</text><text x="909.19" y="1716.45" font-size="29.2" fill="#000" stroke="#000">9</text></g>
<line x1="948.56" y1="1594.80" x2="948.56" y2="1672.60" stroke="#619CFF" stroke-width="4.9"/>
<circle cx="948.56" cy="1638.10" r="11.7" fill="#619CFF"/>
<g transform="rotate(-45 948.56 1706.00)"><text x="932.32" y="1716.45" font-size="29.2" fill="#000" stroke="#000">2</text><text x="948.56" y="1716.45" font-size="29.2" fill="#000" stroke="#000">5</text></g>
<line x1="1038.53" y1="1449.30" x2="1038.53" y2="1490.40" stroke="#F8766D" stroke-width="4.9"/>
<circle cx="1038.53" cy="1470.70" r="11.7" fill="#F8766D"/>
<g transform="rotate(-45 1038.53 1706.00)"><text x="1022.29" y="1716.45" font-size="29.2" fill="#000" stroke="#000">5</text><text x="1038.53" y="1716.45" font-size="29.2" fill="#000" stroke="#000">9</text></g>
<line x1="1077.89" y1="1467.00" x2="1077.89" y2="1512.60" stroke="#00BA38" stroke-width="4.9"/>
<circle cx="1077.89" cy="1490.40" r="11.7" fill="#00BA38"/>
<g transform="rotate(-45 1077.89 1706.00)"><text x="1061.65" y="1716.45" font-size="29.2" fill="#000" stroke="#000">3</text><text x="1077.89" y="1716.45" font-size="29.2" fill="#000" stroke="#000">8</text></g>
<line x1="1117.25" y1="1468.10" x2="1117.25" y2="1551.10" stroke="#619CFF" stroke-width="4.9"/>
<circle cx="1117.25" cy="1512.20" r="11.7" fill="#619CFF"/>
<g transform="rotate(-45 1117.25 1706.00)"><text x="1101.97" y="1716.45" font-size="29.2" fill="#000" stroke="#000" clip-path="url(#one)">1</text><text x="1117.25" y="1716.45" font-size="29.2" fill="#000" stroke="#000">0</text></g>
<line x1="1207.22" y1="1547.80" x2="1207.22" y2="1586.70" stroke="#F8766D" stroke-width="4.9"/>
<circle cx="1207.22" cy="1568.10" r="11.7" fill="#F8766D"/>
<g transform="rotate(-45 1207.22 1706.00)"><text x="1190.98" y="1716.45" font-size="29.2" fill="#000" stroke="#000">7</text><text x="1207.22" y="1716.45" font-size="29.2" fill="#000" stroke="#000">8</text></g>
<line x1="1246.58" y1="1565.90" x2="1246.58" y2="1617.80" stroke="#00BA38" stroke-width="4.9"/>
<circle cx="1246.58" cy="1593.70" r="11.7" fill="#00BA38"/>
<g transform="rotate(-45 1246.58 1706.00)"><text x="1230.34" y="1716.45" font-size="29.2" fill="#000" stroke="#000">2</text><text x="1246.58" y="1716.45" font-size="29.2" fill="#000" stroke="#000">7</text></g>
<line x1="1285.95" y1="1555.90" x2="1285.95" y2="1631.90" stroke="#619CFF" stroke-width="4.9"/>
<circle cx="1285.95" cy="1597.80" r="11.7" fill="#619CFF"/>
<g transform="rotate(-45 1285.95 1706.00)"><text x="1269.71" y="1716.45" font-size="29.2" fill="#000" stroke="#000">3</text><text x="1285.95" y="1716.45" font-size="29.2" fill="#000" stroke="#000">5</text></g>
<path d="M344.07 1359.80 H462.15 M344.07 1359.80 V1368.90 M462.15 1359.80 V1368.90" fill="none" stroke="#000" stroke-width="3.6"/>
<g transform="translate(403.11 1336.90) scale(1.0)"><path transform="rotate(0)" d="M-0.36 -0.4 C-0.55 -2.56 -1.6 -4.10 -1.6 -5.70 A1.6 1.6 0 0 1 1.6 -5.70 C1.6 -4.10 0.55 -2.56 0.36 -0.4 Z" fill="#000"/><path transform="rotate(65)" d="M-0.36 -0.4 C-0.55 -2.39 -1.6 -3.82 -1.6 -5.30 A1.6 1.6 0 0 1 1.6 -5.30 C1.6 -3.82 0.55 -2.39 0.36 -0.4 Z" fill="#000"/><path transform="rotate(115)" d="M-0.36 -0.4 C-0.55 -2.39 -1.6 -3.82 -1.6 -5.30 A1.6 1.6 0 0 1 1.6 -5.30 C1.6 -3.82 0.55 -2.39 0.36 -0.4 Z" fill="#000"/><path transform="rotate(180)" d="M-0.36 -0.4 C-0.55 -2.48 -1.6 -3.96 -1.6 -5.50 A1.6 1.6 0 0 1 1.6 -5.50 C1.6 -3.96 0.55 -2.48 0.36 -0.4 Z" fill="#000"/><path transform="rotate(245)" d="M-0.36 -0.4 C-0.55 -2.39 -1.6 -3.82 -1.6 -5.30 A1.6 1.6 0 0 1 1.6 -5.30 C1.6 -3.82 0.55 -2.39 0.36 -0.4 Z" fill="#000"/><path transform="rotate(295)" d="M-0.36 -0.4 C-0.55 -2.39 -1.6 -3.82 -1.6 -5.30 A1.6 1.6 0 0 1 1.6 -5.30 C1.6 -3.82 0.55 -2.39 0.36 -0.4 Z" fill="#000"/><circle r="0.75" fill="#000"/></g>
<path d="M681.46 1449.90 H799.54 M681.46 1449.90 V1459.00 M799.54 1449.90 V1459.00" fill="none" stroke="#000" stroke-width="3.6"/>
<g transform="translate(722.90 1426.90) scale(1.0)"><path transform="rotate(0)" d="M-0.36 -0.4 C-0.55 -2.56 -1.6 -4.10 -1.6 -5.70 A1.6 1.6 0 0 1 1.6 -5.70 C1.6 -4.10 0.55 -2.56 0.36 -0.4 Z" fill="#000"/><path transform="rotate(65)" d="M-0.36 -0.4 C-0.55 -2.39 -1.6 -3.82 -1.6 -5.30 A1.6 1.6 0 0 1 1.6 -5.30 C1.6 -3.82 0.55 -2.39 0.36 -0.4 Z" fill="#000"/><path transform="rotate(115)" d="M-0.36 -0.4 C-0.55 -2.39 -1.6 -3.82 -1.6 -5.30 A1.6 1.6 0 0 1 1.6 -5.30 C1.6 -3.82 0.55 -2.39 0.36 -0.4 Z" fill="#000"/><path transform="rotate(180)" d="M-0.36 -0.4 C-0.55 -2.48 -1.6 -3.96 -1.6 -5.50 A1.6 1.6 0 0 1 1.6 -5.50 C1.6 -3.96 0.55 -2.48 0.36 -0.4 Z" fill="#000"/><path transform="rotate(245)" d="M-0.36 -0.4 C-0.55 -2.39 -1.6 -3.82 -1.6 -5.30 A1.6 1.6 0 0 1 1.6 -5.30 C1.6 -3.82 0.55 -2.39 0.36 -0.4 Z" fill="#000"/><path transform="rotate(295)" d="M-0.36 -0.4 C-0.55 -2.39 -1.6 -3.82 -1.6 -5.30 A1.6 1.6 0 0 1 1.6 -5.30 C1.6 -3.82 0.55 -2.39 0.36 -0.4 Z" fill="#000"/><circle r="0.75" fill="#000"/></g>
<g transform="translate(740.50 1426.90) scale(1.0)"><path transform="rotate(0)" d="M-0.36 -0.4 C-0.55 -2.56 -1.6 -4.10 -1.6 -5.70 A1.6 1.6 0 0 1 1.6 -5.70 C1.6 -4.10 0.55 -2.56 0.36 -0.4 Z" fill="#000"/><path transform="rotate(65)" d="M-0.36 -0.4 C-0.55 -2.39 -1.6 -3.82 -1.6 -5.30 A1.6 1.6 0 0 1 1.6 -5.30 C1.6 -3.82 0.55 -2.39 0.36 -0.4 Z" fill="#000"/><path transform="rotate(115)" d="M-0.36 -0.4 C-0.55 -2.39 -1.6 -3.82 -1.6 -5.30 A1.6 1.6 0 0 1 1.6 -5.30 C1.6 -3.82 0.55 -2.39 0.36 -0.4 Z" fill="#000"/><path transform="rotate(180)" d="M-0.36 -0.4 C-0.55 -2.48 -1.6 -3.96 -1.6 -5.50 A1.6 1.6 0 0 1 1.6 -5.50 C1.6 -3.96 0.55 -2.48 0.36 -0.4 Z" fill="#000"/><path transform="rotate(245)" d="M-0.36 -0.4 C-0.55 -2.39 -1.6 -3.82 -1.6 -5.30 A1.6 1.6 0 0 1 1.6 -5.30 C1.6 -3.82 0.55 -2.39 0.36 -0.4 Z" fill="#000"/><path transform="rotate(295)" d="M-0.36 -0.4 C-0.55 -2.39 -1.6 -3.82 -1.6 -5.30 A1.6 1.6 0 0 1 1.6 -5.30 C1.6 -3.82 0.55 -2.39 0.36 -0.4 Z" fill="#000"/><circle r="0.75" fill="#000"/></g>
<g transform="translate(758.10 1426.90) scale(1.0)"><path transform="rotate(0)" d="M-0.36 -0.4 C-0.55 -2.56 -1.6 -4.10 -1.6 -5.70 A1.6 1.6 0 0 1 1.6 -5.70 C1.6 -4.10 0.55 -2.56 0.36 -0.4 Z" fill="#000"/><path transform="rotate(65)" d="M-0.36 -0.4 C-0.55 -2.39 -1.6 -3.82 -1.6 -5.30 A1.6 1.6 0 0 1 1.6 -5.30 C1.6 -3.82 0.55 -2.39 0.36 -0.4 Z" fill="#000"/><path transform="rotate(115)" d="M-0.36 -0.4 C-0.55 -2.39 -1.6 -3.82 -1.6 -5.30 A1.6 1.6 0 0 1 1.6 -5.30 C1.6 -3.82 0.55 -2.39 0.36 -0.4 Z" fill="#000"/><path transform="rotate(180)" d="M-0.36 -0.4 C-0.55 -2.48 -1.6 -3.96 -1.6 -5.50 A1.6 1.6 0 0 1 1.6 -5.50 C1.6 -3.96 0.55 -2.48 0.36 -0.4 Z" fill="#000"/><path transform="rotate(245)" d="M-0.36 -0.4 C-0.55 -2.39 -1.6 -3.82 -1.6 -5.30 A1.6 1.6 0 0 1 1.6 -5.30 C1.6 -3.82 0.55 -2.39 0.36 -0.4 Z" fill="#000"/><path transform="rotate(295)" d="M-0.36 -0.4 C-0.55 -2.39 -1.6 -3.82 -1.6 -5.30 A1.6 1.6 0 0 1 1.6 -5.30 C1.6 -3.82 0.55 -2.39 0.36 -0.4 Z" fill="#000"/><circle r="0.75" fill="#000"/></g>
<path d="M850.15 1422.00 H968.24 M850.15 1422.00 V1431.10 M968.24 1422.00 V1431.10" fill="none" stroke="#000" stroke-width="3.6"/>
<g transform="translate(900.39 1398.90) scale(1.0)"><path transform="rotate(0)" d="M-0.36 -0.4 C-0.55 -2.56 -1.6 -4.10 -1.6 -5.70 A1.6 1.6 0 0 1 1.6 -5.70 C1.6 -4.10 0.55 -2.56 0.36 -0.4 Z" fill="#000"/><path transform="rotate(65)" d="M-0.36 -0.4 C-0.55 -2.39 -1.6 -3.82 -1.6 -5.30 A1.6 1.6 0 0 1 1.6 -5.30 C1.6 -3.82 0.55 -2.39 0.36 -0.4 Z" fill="#000"/><path transform="rotate(115)" d="M-0.36 -0.4 C-0.55 -2.39 -1.6 -3.82 -1.6 -5.30 A1.6 1.6 0 0 1 1.6 -5.30 C1.6 -3.82 0.55 -2.39 0.36 -0.4 Z" fill="#000"/><path transform="rotate(180)" d="M-0.36 -0.4 C-0.55 -2.48 -1.6 -3.96 -1.6 -5.50 A1.6 1.6 0 0 1 1.6 -5.50 C1.6 -3.96 0.55 -2.48 0.36 -0.4 Z" fill="#000"/><path transform="rotate(245)" d="M-0.36 -0.4 C-0.55 -2.39 -1.6 -3.82 -1.6 -5.30 A1.6 1.6 0 0 1 1.6 -5.30 C1.6 -3.82 0.55 -2.39 0.36 -0.4 Z" fill="#000"/><path transform="rotate(295)" d="M-0.36 -0.4 C-0.55 -2.39 -1.6 -3.82 -1.6 -5.30 A1.6 1.6 0 0 1 1.6 -5.30 C1.6 -3.82 0.55 -2.39 0.36 -0.4 Z" fill="#000"/><circle r="0.75" fill="#000"/></g>
<g transform="translate(917.99 1398.90) scale(1.0)"><path transform="rotate(0)" d="M-0.36 -0.4 C-0.55 -2.56 -1.6 -4.10 -1.6 -5.70 A1.6 1.6 0 0 1 1.6 -5.70 C1.6 -4.10 0.55 -2.56 0.36 -0.4 Z" fill="#000"/><path transform="rotate(65)" d="M-0.36 -0.4 C-0.55 -2.39 -1.6 -3.82 -1.6 -5.30 A1.6 1.6 0 0 1 1.6 -5.30 C1.6 -3.82 0.55 -2.39 0.36 -0.4 Z" fill="#000"/><path transform="rotate(115)" d="M-0.36 -0.4 C-0.55 -2.39 -1.6 -3.82 -1.6 -5.30 A1.6 1.6 0 0 1 1.6 -5.30 C1.6 -3.82 0.55 -2.39 0.36 -0.4 Z" fill="#000"/><path transform="rotate(180)" d="M-0.36 -0.4 C-0.55 -2.48 -1.6 -3.96 -1.6 -5.50 A1.6 1.6 0 0 1 1.6 -5.50 C1.6 -3.96 0.55 -2.48 0.36 -0.4 Z" fill="#000"/><path transform="rotate(245)" d="M-0.36 -0.4 C-0.55 -2.39 -1.6 -3.82 -1.6 -5.30 A1.6 1.6 0 0 1 1.6 -5.30 C1.6 -3.82 0.55 -2.39 0.36 -0.4 Z" fill="#000"/><path transform="rotate(295)" d="M-0.36 -0.4 C-0.55 -2.39 -1.6 -3.82 -1.6 -5.30 A1.6 1.6 0 0 1 1.6 -5.30 C1.6 -3.82 0.55 -2.39 0.36 -0.4 Z" fill="#000"/><circle r="0.75" fill="#000"/></g>
<rect x="133.2" y="1265.3" width="1214.60" height="468.00" fill="none" stroke="#000" stroke-width="4.8" stroke-linejoin="round"/>
<line x1="234.42" y1="1733.3" x2="234.42" y2="1750.70" stroke="#333333" stroke-width="4.4"/>
<text x="234.42" y="1775.60" text-anchor="middle" font-size="29.5" fill="#4D4D4D" stroke="#4D4D4D"><tspan font-style="italic">g</tspan><tspan font-size="20.65" dy="5.4" dx="1.0">s</tspan></text>
<line x1="403.11" y1="1733.3" x2="403.11" y2="1750.70" stroke="#333333" stroke-width="4.4"/>
<text x="403.71" y="1780.50" text-anchor="middle" font-size="29.5" fill="#4D4D4D" stroke="#4D4D4D"><tspan font-style="italic">E</tspan></text>
<line x1="571.81" y1="1733.3" x2="571.81" y2="1750.70" stroke="#333333" stroke-width="4.4"/>
<text x="572.41" y="1780.50" text-anchor="middle" font-size="29.5" fill="#4D4D4D" stroke="#4D4D4D"><tspan font-style="italic">A</tspan><tspan font-size="20.65" dy="5.4" dx="2.2">net</tspan></text>
<line x1="740.50" y1="1733.3" x2="740.50" y2="1750.70" stroke="#333333" stroke-width="4.4"/>
<text x="740.50" y="1780.50" text-anchor="middle" font-size="29.5" fill="#4D4D4D" stroke="#4D4D4D"><tspan font-style="italic">W</tspan><tspan font-style="italic" dx="2.6">U</tspan><tspan font-style="italic" dx="2.6">E</tspan><tspan font-size="20.65" dy="5.4" dx="2.4">i</tspan></text>
<line x1="909.19" y1="1733.3" x2="909.19" y2="1750.70" stroke="#333333" stroke-width="4.4"/>
<text x="909.19" y="1780.50" text-anchor="middle" font-size="29.5" fill="#4D4D4D" stroke="#4D4D4D"><tspan font-style="italic">W</tspan><tspan font-style="italic" dx="2.6">U</tspan><tspan font-style="italic" dx="2.6">E</tspan><tspan font-size="20.65" dy="5.4" dx="2.4">t</tspan></text>
<line x1="1077.89" y1="1733.3" x2="1077.89" y2="1750.70" stroke="#333333" stroke-width="4.4"/>
<text x="1078.49" y="1780.50" text-anchor="middle" font-size="29.5" fill="#4D4D4D" stroke="#4D4D4D"><tspan font-style="italic">T</tspan><tspan font-size="20.65" dy="5.4" dx="2.2">leaf</tspan></text>
<line x1="1246.58" y1="1733.3" x2="1246.58" y2="1750.70" stroke="#333333" stroke-width="4.4"/>
<text x="1247.18" y="1780.50" text-anchor="middle" font-size="29.5" fill="#4D4D4D" stroke="#4D4D4D"><tspan font-style="italic">&#936;</tspan><tspan font-size="20.65" dy="5.4" dx="2.2">leaf</tspan></text>
<line x1="1003.00" y1="1307.80" x2="1035.80" y2="1307.80" stroke="#F8766D" stroke-width="4.1"/>
<circle cx="1019.30" cy="1307.80" r="14" fill="#F8766D"/>
<text x="1063.20" y="1318.40" font-size="29.0" fill="#000" stroke="#000">Growth chamber</text>
<line x1="1003.00" y1="1348.80" x2="1035.80" y2="1348.80" stroke="#00BA38" stroke-width="4.1"/>
<circle cx="1019.30" cy="1348.80" r="14" fill="#00BA38"/>
<text x="1063.20" y="1359.30" font-size="29.0" fill="#000" stroke="#000">Heater</text>
<line x1="1003.00" y1="1389.80" x2="1035.80" y2="1389.80" stroke="#619CFF" stroke-width="4.1"/>
<circle cx="1019.30" cy="1389.80" r="14" fill="#619CFF"/>
<text x="1063.20" y="1400.20" font-size="29.0" fill="#000" stroke="#000">OTC</text>
</svg>
</body></html>
